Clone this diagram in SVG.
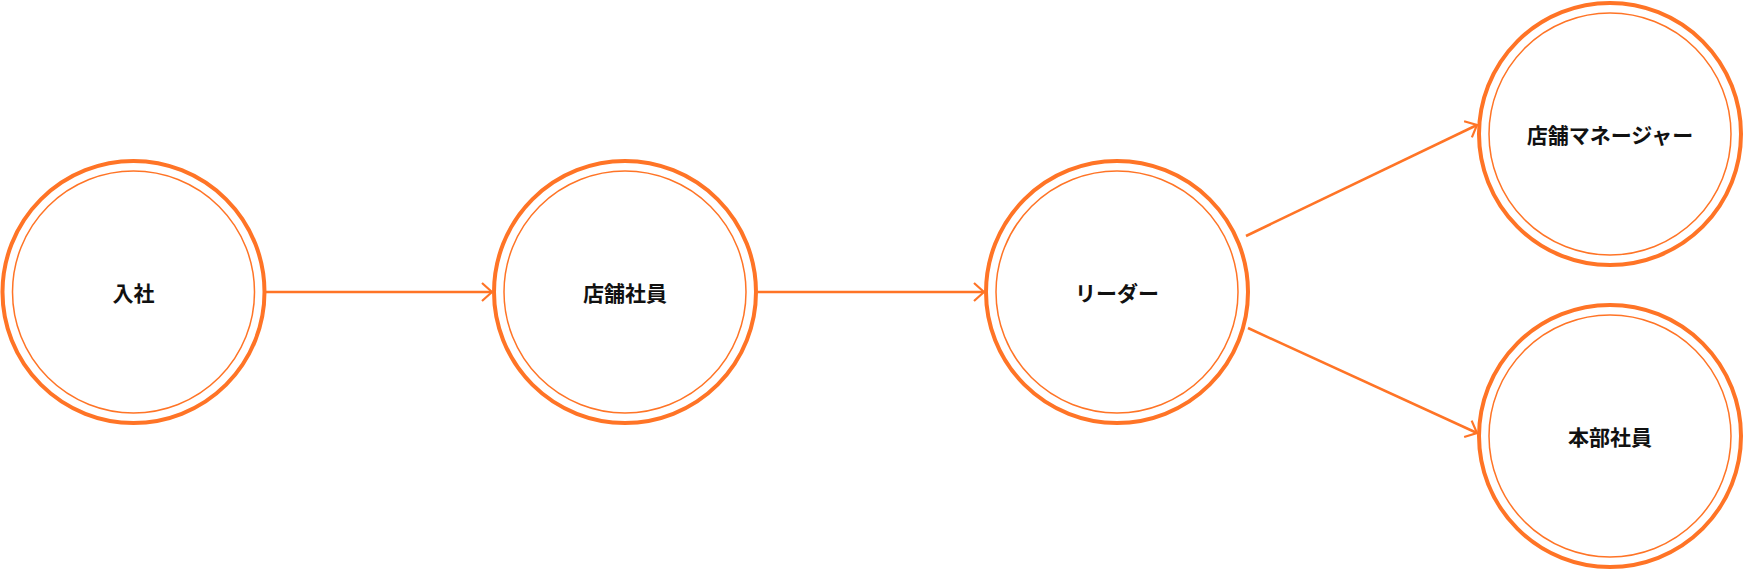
<svg xmlns="http://www.w3.org/2000/svg" width="1743" height="570" viewBox="0 0 1743 570">
<style>
.o{fill:#fff;stroke:#ff7426;stroke-width:4}
.i{fill:none;stroke:#ff7426;stroke-width:1.5}
.t{font-family:"Noto Sans CJK JP","Noto Sans",sans-serif;font-size:21px;font-weight:bold;fill:#111;text-anchor:middle;dominant-baseline:central}
.c{stroke:#ff7426;stroke-width:2.5;fill:none}
</style>
<defs><marker id="a" viewBox="0 0 12 20" refX="11" refY="10" markerWidth="12" markerHeight="20" markerUnits="userSpaceOnUse" orient="auto"><path d="M1 1 L11 10 L1 19" fill="none" stroke="#ff7426" stroke-width="2.2"/></marker></defs>
<g id="connectors">
<line class="c" x1="266" y1="292" x2="492" y2="292" marker-end="url(#a)"/>
<line class="c" x1="758" y1="292" x2="984" y2="292" marker-end="url(#a)"/>
<line class="c" x1="1246" y1="236" x2="1477" y2="125" marker-end="url(#a)"/>
<line class="c" x1="1248" y1="328" x2="1477" y2="433" marker-end="url(#a)"/>
</g>
<g id="n1"><circle class="o" cx="133.5" cy="292" r="131"/><circle class="i" cx="133.5" cy="292" r="121"/><text class="t" x="133.5" y="292">入社</text></g>
<g id="n2"><circle class="o" cx="625" cy="292" r="131"/><circle class="i" cx="625" cy="292" r="121"/><text class="t" x="625" y="292">店舗社員</text></g>
<g id="n3"><circle class="o" cx="1117" cy="292" r="131"/><circle class="i" cx="1117" cy="292" r="121"/><text class="t" x="1117" y="292">リーダー</text></g>
<g id="n4"><circle class="o" cx="1610" cy="134" r="131"/><circle class="i" cx="1610" cy="134" r="121"/><text class="t" x="1610" y="134">店舗マネージャー</text></g>
<g id="n5"><circle class="o" cx="1610" cy="436" r="131"/><circle class="i" cx="1610" cy="436" r="121"/><text class="t" x="1610" y="436">本部社員</text></g>
</svg>
